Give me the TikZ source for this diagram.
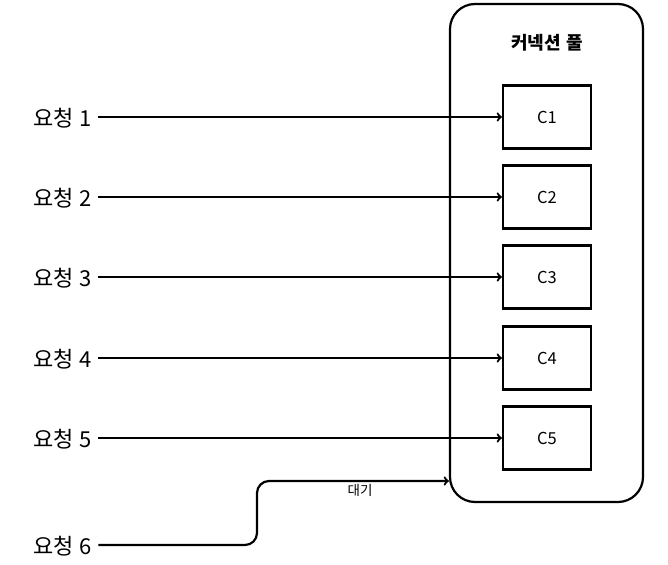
\documentclass[tikz,border=0pt]{standalone}
\usepackage{fontspec}
\setmainfont[WordSpace=1.3]{Noto Sans CJK KR}
\usetikzlibrary{arrows,positioning,calc}

\tikzset{
  connbox/.style={draw,minimum width=88pt,minimum height=63pt,inner sep=0pt,
    font=\fontsize{16.5}{19}\selectfont},
  reqlabel/.style={anchor=west,inner ysep=2pt,inner xsep=5pt,font=\fontsize{22}{26}\selectfont}
}

\begin{document}
\begin{tikzpicture}[x=1pt,y=-1pt,line width=2.2pt,>=to,auto]
        \useasboundingbox (0,0) rectangle (668,564);

        % the pool
        \node[draw,rounded corners=25pt,minimum width=193pt,minimum height=498pt] (pool) at (546.5,253) {};
        \node[font=\fontsize{18}{21}\selectfont\bfseries] (title) at (547,43) {커넥션 풀};

        % connections and requests
        \foreach \i/\y in {1/117,2/197,3/277,4/358,5/438} {
          \node[connbox] (c\i) at (547,\y) {C\i};
          \node[reqlabel] (r\i) at (27,\y+1) {요청 \i};
          \draw[->] (r\i.east |- c\i) -- (c\i);
        }

        % waiting request
        \node[reqlabel] (r6) at (27,546) {요청 6};
        \coordinate (bend) at (257,481);
        \draw[->,rounded corners=12pt] (r6.east |- 0,545) -| (bend) -- (bend -| pool.west);
        \node[font=\fontsize{13.5}{16}\selectfont] (wait) at (360,490) {대기};

      \end{tikzpicture}
\end{document}
